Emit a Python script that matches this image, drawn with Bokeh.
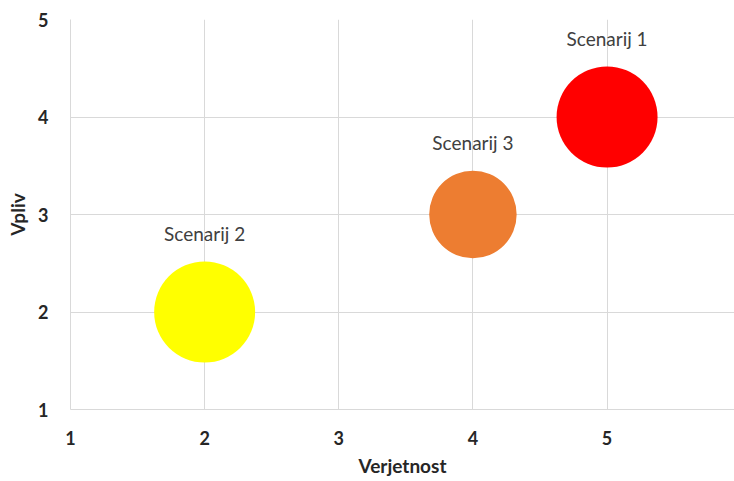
import numpy as np
from bokeh.plotting import figure
from bokeh.models import ColumnDataSource, Range1d, FixedTicker
from bokeh.core.properties import value
from bokeh.embed import file_html
from bokeh.resources import INLINE

# Data
scenarios = ["Scenarij 1", "Scenarij 2", "Scenarij 3"]
verjetnost = [5, 2, 4]
vpliv = [4, 2, 3]
bubble_size = [20, 20, 15]
colors = ["#FF0000", "#FFFF00", "#ED7D31"]
x_ticks = [1, 2, 3, 4, 5]
y_ticks = [1, 2, 3, 4, 5]

max_diam = 101
diam = [max_diam * np.sqrt(s / max(bubble_size)) for s in bubble_size]
label_off = [-(d / 2 + 28) for d in diam]

src = ColumnDataSource(dict(x=verjetnost, y=vpliv, d=diam, c=colors,
                            name=scenarios, off=label_off))

p = figure(width=734, height=481, output_backend="svg", toolbar_location=None,
           x_range=Range1d(1, 5.95), y_range=Range1d(1, 5),
           min_border_left=70, min_border_right=0, min_border_top=19,
           min_border_bottom=72)
p.outline_line_color = None
p.background_fill_color = "white"

p.scatter("x", "y", size="d", fill_color="c", line_color=None, source=src)
p.text("x", "y", text="name", y_offset="off", text_align="center",
       text_baseline="middle", text_font=value("Lato"), text_font_size="19px",
       text_color="#404040", source=src)

for ax in (p.xaxis[0], p.yaxis[0]):
    ax.axis_line_color = "#d9d9d9"
    ax.major_tick_line_color = None
    ax.minor_tick_line_color = None
    ax.major_tick_out = 0
    ax.major_tick_in = 0
    ax.minor_tick_out = 0
    ax.minor_tick_in = 0
    ax.major_label_text_font = "Lato"
    ax.major_label_text_font_style = "bold"
    ax.major_label_text_font_size = "18px"
    ax.major_label_text_color = "#262626"
    ax.axis_label_text_font = "Lato"
    ax.axis_label_text_font_style = "bold"
    ax.axis_label_text_font_size = "19px"
    ax.axis_label_text_color = "#262626"

p.xaxis.ticker = FixedTicker(ticks=x_ticks)
p.yaxis.ticker = FixedTicker(ticks=y_ticks)
p.xaxis.axis_label = "Verjetnost"
p.yaxis.axis_label = "Vpliv"
p.xaxis.major_label_standoff = 21
p.xaxis.axis_label_standoff = 6
p.yaxis.major_label_standoff = 22
p.yaxis.axis_label_standoff = 6

p.xgrid.grid_line_color = "#d9d9d9"
p.ygrid.grid_line_color = "#d9d9d9"
p.xgrid.ticker = FixedTicker(ticks=x_ticks)
p.ygrid.ticker = FixedTicker(ticks=y_ticks)

open("out.html", "w").write(file_html(p, INLINE))
